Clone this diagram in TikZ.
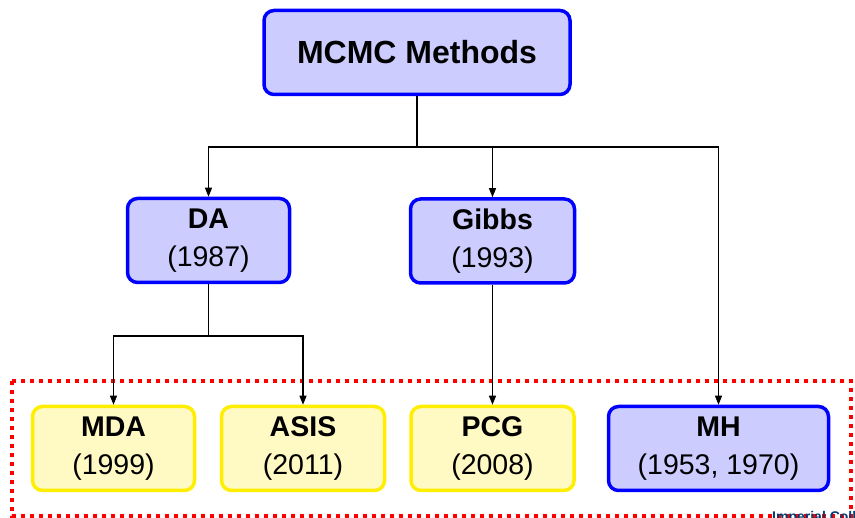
\documentclass[tikz,border=0pt]{standalone}
\usepackage{fontspec}
\setmainfont{Liberation Sans}
\usetikzlibrary{arrows.meta}
\definecolor{bfill}{HTML}{CCCCFF}
\definecolor{bdraw}{HTML}{0000FF}
\definecolor{yfill}{HTML}{FFF9C4}
\definecolor{ydraw}{HTML}{FFEE00}
\definecolor{imp}{HTML}{003E74}
\definecolor{dotred}{HTML}{FF0000}
\begin{document}
\begin{tikzpicture}[x=1pt,y=-1pt,
  box/.style={rounded corners=10pt, line width=3.5pt, align=center, inner sep=0pt,
    minimum height=84pt, font=\fontsize{28.5}{37.5}\selectfont},
  bluebox/.style={box, draw=bdraw, fill=bfill},
  yellowbox/.style={box, draw=ydraw, fill=yfill},
  conn/.style={line width=1.1pt, draw=black},
  arr/.style={conn, -{Triangle[length=9pt,width=7pt]}},
  groupframe/.style={draw=dotred, line width=3.5pt, dash pattern=on 4pt off 5pt}]
\useasboundingbox (0,0) rectangle (855,518);
\clip (0,0) rectangle (855,518);

\draw[groupframe] (12,381) rectangle (851,516);

\node[bluebox, minimum width=306pt, font=\bfseries\fontsize{32}{38}\selectfont] (mcmc) at (417,52.5) {MCMC Methods};
\node[bluebox, minimum width=162pt] (da) at (208.5,240.5) {\textbf{DA}\\(1987)};
\node[bluebox, minimum width=164pt] (gibbs) at (492.5,241) {\textbf{Gibbs}\\(1993)};
\node[yellowbox, minimum width=162pt] (mda) at (113.5,448.5) {\textbf{MDA}\\(1999)};
\node[yellowbox, minimum width=163pt] (asis) at (303,448.5) {\textbf{ASIS}\\(2011)};
\node[yellowbox, minimum width=163pt] (pcg) at (492.5,448.5) {\textbf{PCG}\\(2008)};
\node[bluebox, minimum width=220pt] (mh) at (718.5,448.5) {\textbf{MH}\\(1953, 1970)};

\coordinate (j1) at (417,147);
\draw[conn] (mcmc.south) -- (j1);
\draw[arr] (j1) -| (da.north);
\draw[arr] (j1) -| (mh.north);
\draw[arr] (gibbs.north |- j1) -- (gibbs.north);
\draw[arr] (gibbs.south) -- (pcg.north);
\coordinate (j2) at (208.5,336);
\draw[conn] (da.south) -- (j2);
\draw[arr] (j2) -| (mda.north);
\draw[arr] (j2) -| (asis.north);

\node[anchor=base west, text=imp, inner sep=0pt, font=\bfseries\fontsize{14}{14}\selectfont] (logo) at (772,522) {Imperial College London};
\end{tikzpicture}
\end{document}
